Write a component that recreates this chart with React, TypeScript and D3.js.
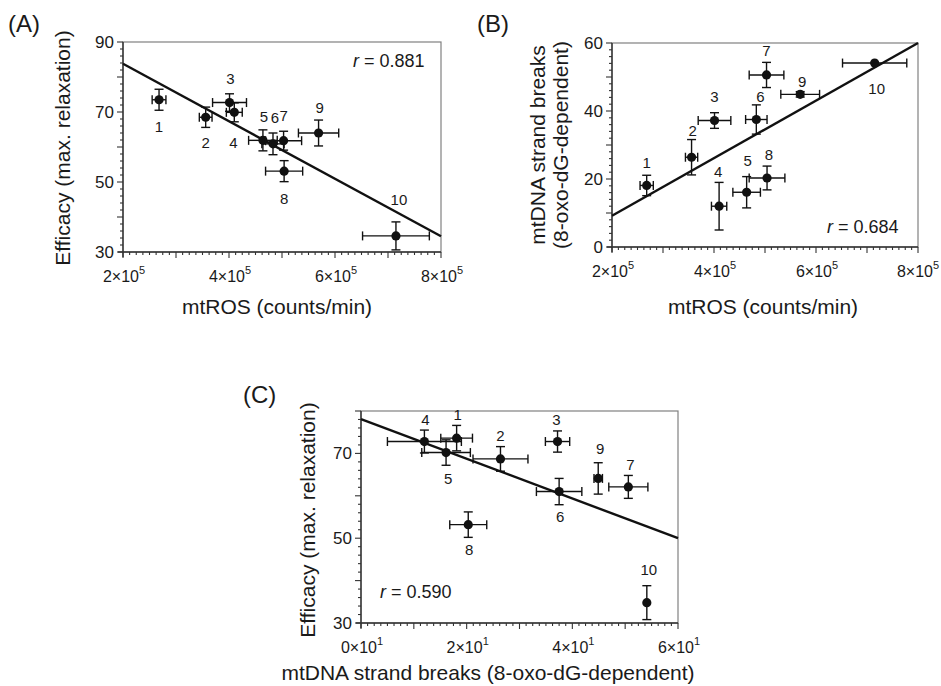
import React from "react";
import * as d3 from "d3";

// compound numbers
const ids = ["1", "2", "3", "4", "5", "6", "7", "8", "9", "10"];

// mtROS (counts/min), x of panels A and B
const mtROS = [2.68e5, 3.56e5, 4.01e5, 4.1e5, 4.64e5, 4.83e5, 5.03e5, 5.04e5, 5.69e5, 7.15e5];
const mtROSErr = [0.13e5, 0.12e5, 0.32e5, 0.15e5, 0.27e5, 0.21e5, 0.34e5, 0.35e5, 0.38e5, 0.63e5];

// efficacy (max. relaxation), y of panels A and C
const efficacyA = [73.5, 68.5, 72.7, 69.9, 61.9, 60.9, 61.8, 53.1, 64.0, 34.6];
const efficacyC = [73.6, 68.7, 72.8, 72.8, 70.2, 61.0, 62.1, 53.2, 64.1, 34.8];
const efficacyErr = [3.0, 2.9, 2.5, 2.7, 3.0, 3.1, 2.7, 3.0, 3.7, 4.0];

// mtDNA strand breaks (8-oxo-dG-dependent), y of B and x of C
const strandBreaks = [18.1, 26.4, 37.2, 12.0, 16.1, 37.5, 50.6, 20.3, 44.9, 54.1];
const strandErr = [3.0, 5.2, 2.3, 7.0, 4.6, 4.3, 3.7, 3.5, 0.8, 0];

// fitted lines, end points
const fitA = [[2e5, 83.8], [8e5, 34.5]];
const fitB = [[2e5, 9.2], [8e5, 60]];
const fitC = [[0, 78.1], [60, 50]];

const rValues = ["0.881", "0.684", "0.590"];

// tick labels
const mtROSTicks = [2e5, 4e5, 6e5, 8e5];
const strandTicksX = [0, 20, 40, 60];
const efficacyTicksA = [30, 50, 70, 90];
const efficacyTicksC = [30, 50, 70];
const strandTicksY = [0, 20, 40, 60];

// where each number label sits relative to its point (px)
const labelOffA = [[0, 27], [0, 25], [1, -24], [-1, 30], [1, -24], [2, -26], [0, -25], [0, 27], [1, -26], [3, -36]];
const labelOffB = [[0, -23], [1, -27], [0, -24], [-1, -35], [1, -32], [4, -23], [0, -24], [2, -23], [2, -13], [2, 25]];
const labelOffC = [[1, -24], [0, -23], [-1, -22], [1, -22], [2, 26], [1, 25], [2, -22], [1, 25], [2, -30], [2, -33]];

const FONT = "'Liberation Sans', Arial, Helvetica, sans-serif";
const INK = "#1a1a1a";
const W = 941;

const Panel = ({ box, xDomain, yDomain, xs, ys, xe, ye, fit, xTicks, xMajor, xExp, yTicks, yMinor, yMajor, offsets, r, rAt, xTitle, yTitle, tag }) => {
  const x = d3.scaleLinear().domain(xDomain).range([box.l, box.r]);
  const y = d3.scaleLinear().domain(yDomain).range([box.b, box.t]);

  const xMinorTicks = d3.range(xDomain[0], xDomain[1] + xMajor / 16, xMajor / 8);
  const yMinorTicks = d3.range(yDomain[0], yDomain[1] + yMinor / 2, yMinor);
  const isMajor = (v, step) => Math.abs(v / step - Math.round(v / step)) < 1e-6;
  const line = d3.line().x(d => x(d[0])).y(d => y(d[1]));

  return (
    <g fontFamily={FONT} fill={INK}>
      <text x={tag.x} y={tag.y} fontSize={24}>{tag.text}</text>

      {/* frame */}
      <rect x={box.l} y={box.t} width={box.r - box.l} height={box.b - box.t} fill="none" stroke="#808080" strokeWidth={1.2} />
      <line x1={box.l} x2={box.l} y1={box.t} y2={box.b + 5} stroke="#333" strokeWidth={1.4} />
      <line x1={box.l - 5} x2={box.r} y1={box.b} y2={box.b} stroke="#333" strokeWidth={1.4} />

      {/* ticks */}
      {xMinorTicks.map((v, i) => (
        <line key={"xt" + i} x1={x(v)} x2={x(v)} y1={box.b} y2={box.b + (isMajor(v, xMajor) ? 6 : 3)} stroke="#333" strokeWidth={1.1} />
      ))}
      {yMinorTicks.map((v, i) => (
        <line key={"yt" + i} x1={box.l} x2={box.l - (isMajor(v, yMajor) ? 6 : 3)} y1={y(v)} y2={y(v)} stroke="#333" strokeWidth={1.1} />
      ))}
      {xTicks.map(v => (
        <text key={"xl" + v} x={Math.min(x(v) + 1, W - 23)} y={box.b + 30} fontSize={16} textAnchor="middle">
          {`${Math.round(v / Math.pow(10, xExp))}×10`}
          <tspan fontSize={11} dy={-8}>{xExp}</tspan>
        </text>
      ))}
      {yTicks.map(v => (
        <text key={"yl" + v} x={box.l - 9} y={y(v)} fontSize={17} textAnchor="end" dominantBaseline="central">{v}</text>
      ))}

      {/* fit line */}
      <path d={line(fit)} fill="none" stroke="#111" strokeWidth={2.4} />

      {/* error bars and points */}
      {xs.map((xv, i) => {
        const cx = x(xv), cy = y(ys[i]);
        const xl = x(xv - xe[i]), xr = x(xv + xe[i]);
        const yt = y(ys[i] + ye[i]), yb = y(ys[i] - ye[i]);
        return (
          <g key={"p" + i} stroke="#111" strokeWidth={1.4}>
            {xe[i] > 0 && <>
              <line x1={xl} x2={xr} y1={cy} y2={cy} />
              <line x1={xl} x2={xl} y1={cy - 4.5} y2={cy + 4.5} />
              <line x1={xr} x2={xr} y1={cy - 4.5} y2={cy + 4.5} />
            </>}
            {ye[i] > 0 && <>
              <line x1={cx} x2={cx} y1={yt} y2={yb} />
              <line x1={cx - 4.5} x2={cx + 4.5} y1={yt} y2={yt} />
              <line x1={cx - 4.5} x2={cx + 4.5} y1={yb} y2={yb} />
            </>}
            <circle cx={cx} cy={cy} r={4.6} fill="#111" stroke="none" />
          </g>
        );
      })}
      {xs.map((xv, i) => (
        <text key={"n" + i} x={x(xv) + offsets[i][0]} y={y(ys[i]) + offsets[i][1]} fontSize={15} textAnchor="middle" dominantBaseline="central">{ids[i]}</text>
      ))}

      <text x={rAt[0]} y={rAt[1]} fontSize={18}>
        <tspan fontStyle="italic">r</tspan> = {r}
      </text>

      <text x={xTitle.x} y={xTitle.y} fontSize={21} textAnchor="middle">{xTitle.text}</text>
      {yTitle.lines.map((t, i) => (
        <text key={"yt" + i} transform={`translate(${yTitle.xs[i]},${yTitle.cy}) rotate(-90)`} fontSize={21} textAnchor="middle" dominantBaseline="central">{t}</text>
      ))}
    </g>
  );
};

export default function App() {
  return (
    <div style={{ position: "absolute", left: 0, top: 0, width: W, height: 686, background: "#fff" }}>
      <svg width={W} height={686}>
        <Panel
          box={{ l: 123, r: 441, t: 42, b: 252 }}
          xDomain={[2e5, 8e5]} yDomain={[30, 90]}
          xs={mtROS} ys={efficacyA} xe={mtROSErr} ye={efficacyErr}
          fit={fitA}
          xTicks={mtROSTicks} xMajor={1e5} xExp={5}
          yTicks={efficacyTicksA} yMinor={2} yMajor={10}
          offsets={labelOffA}
          r={rValues[0]} rAt={[353, 67]}
          xTitle={{ text: "mtROS (counts/min)", x: 277, y: 314 }}
          yTitle={{ lines: ["Efficacy (max. relaxation)"], xs: [62], cy: 148 }}
          tag={{ text: "(A)", x: 8, y: 32 }}
        />
        <Panel
          box={{ l: 612, r: 918, t: 43, b: 247 }}
          xDomain={[2e5, 8e5]} yDomain={[0, 60]}
          xs={mtROS} ys={strandBreaks} xe={mtROSErr} ye={strandErr}
          fit={fitB}
          xTicks={mtROSTicks} xMajor={1e5} xExp={5}
          yTicks={strandTicksY} yMinor={2} yMajor={10}
          offsets={labelOffB}
          r={rValues[1]} rAt={[827, 233]}
          xTitle={{ text: "mtROS (counts/min)", x: 763, y: 314 }}
          yTitle={{ lines: ["mtDNA strand breaks", "(8-oxo-dG-dependent)"], xs: [537, 560], cy: 145 }}
          tag={{ text: "(B)", x: 477, y: 32 }}
        />
        <Panel
          box={{ l: 361, r: 678, t: 411, b: 623 }}
          xDomain={[0, 60]} yDomain={[30, 80]}
          xs={strandBreaks} ys={efficacyC} xe={strandErr} ye={efficacyErr}
          fit={fitC}
          xTicks={strandTicksX} xMajor={10} xExp={1}
          yTicks={efficacyTicksC} yMinor={2} yMajor={10}
          offsets={labelOffC}
          r={rValues[2]} rAt={[380, 598]}
          xTitle={{ text: "mtDNA strand breaks (8-oxo-dG-dependent)", x: 488, y: 680 }}
          yTitle={{ lines: ["Efficacy (max. relaxation)"], xs: [307], cy: 520 }}
          tag={{ text: "(C)", x: 243, y: 403 }}
        />
      </svg>
    </div>
  );
}
